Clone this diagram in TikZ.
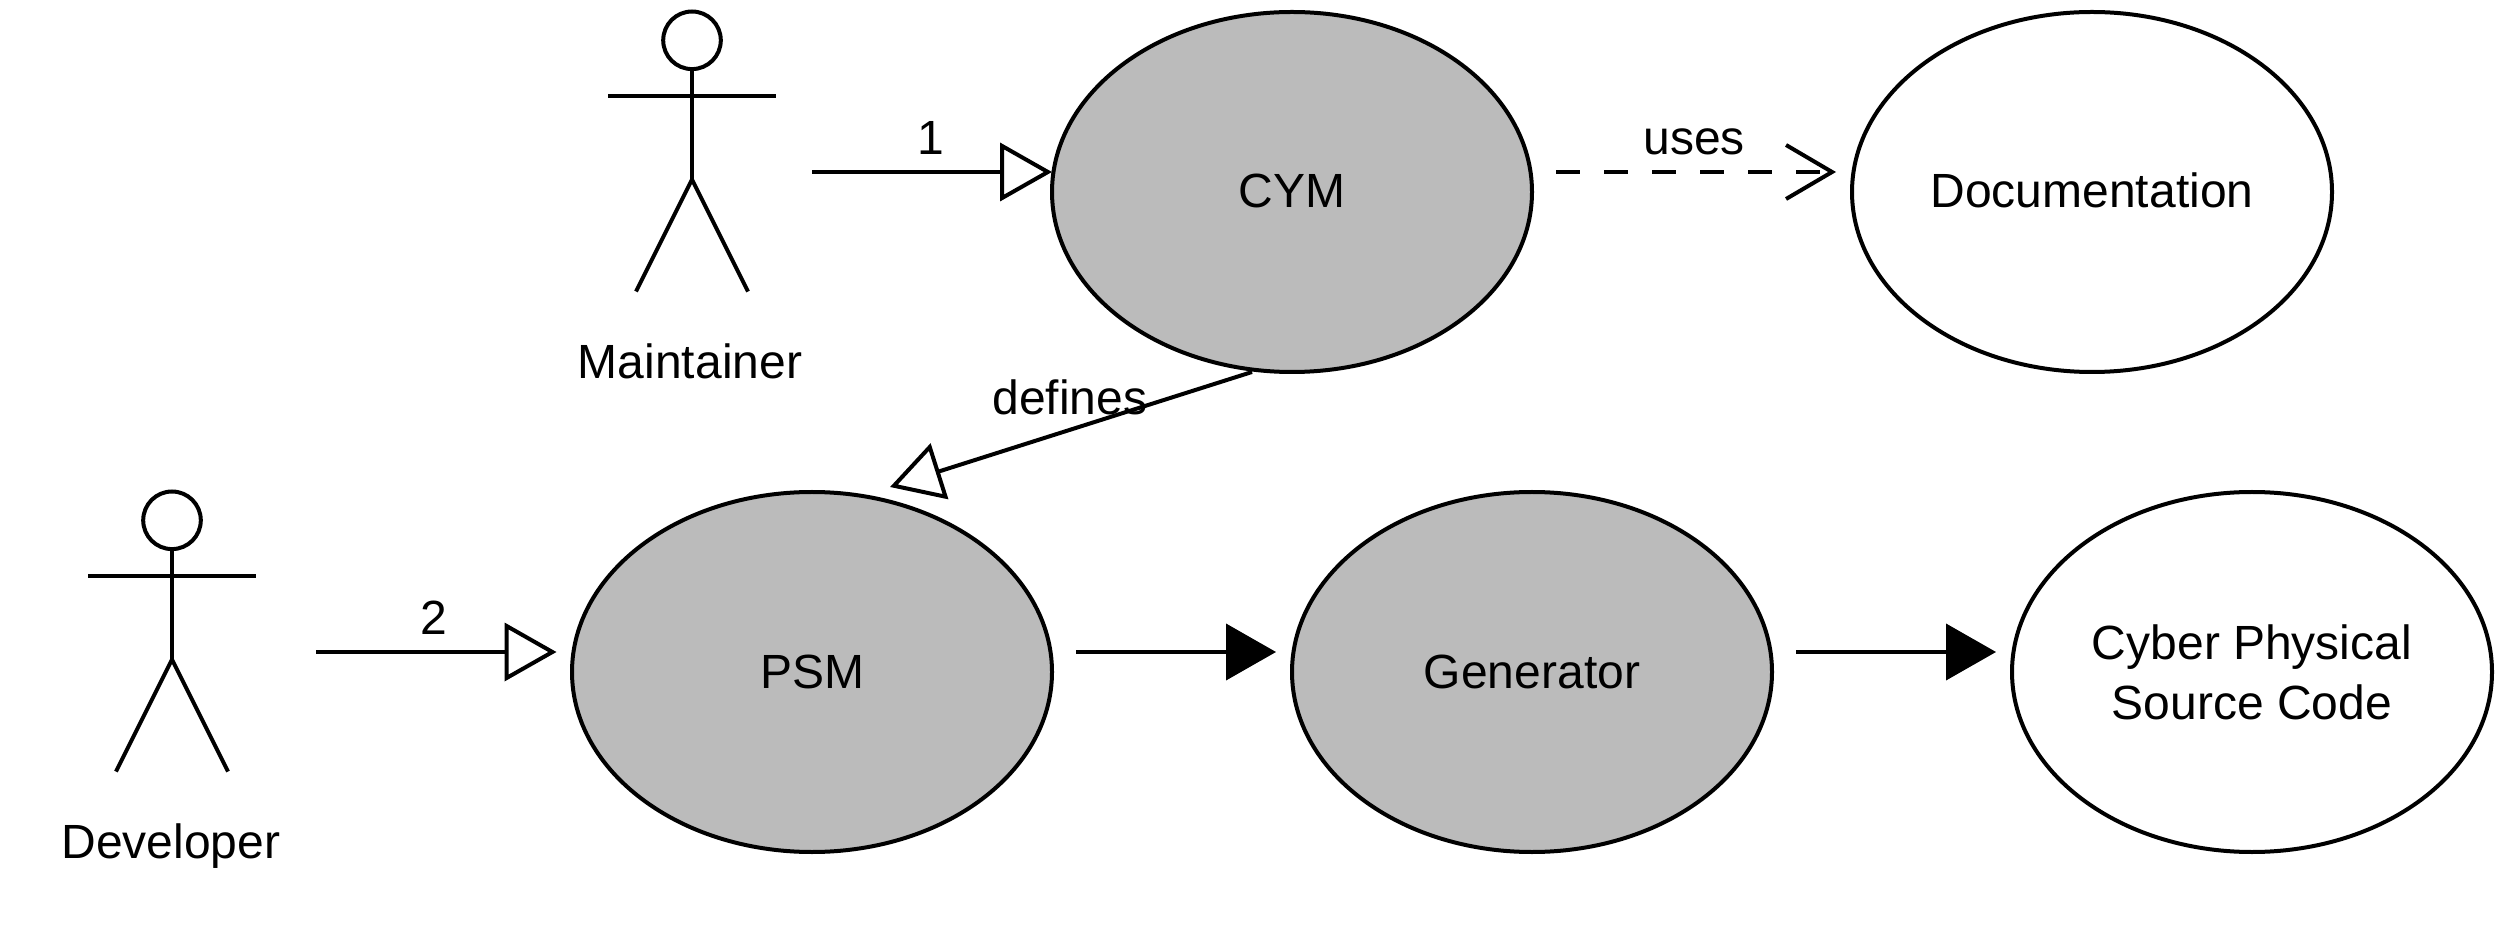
\documentclass[tikz,border=0pt]{standalone}
\usepackage{fontspec}
\setmainfont{Liberation Sans}
\usetikzlibrary{shapes.geometric,arrows.meta,calc}
\definecolor{ucgray}{HTML}{BBBBBB}
\tikzset{
  ln/.style={line width=2pt,black,line cap=butt,miter limit=10},
  usecase/.style={ellipse,draw=black,line width=2pt,minimum width=240pt,minimum height=180pt,inner sep=0pt,outer sep=0pt,font=\fontsize{24}{30}\selectfont,align=center},
  filleduc/.style={usecase,fill=ucgray},
  plainuc/.style={usecase,fill=white},
  lab/.style={inner sep=0pt,outer sep=0pt,font=\fontsize{24}{30}\selectfont,anchor=base},
  actorbox/.style={inner sep=0pt,outer sep=0pt,minimum width=84pt,minimum height=140.5pt,draw=none},
  hollow/.style={ln,-{Triangle[open,length=26pt,width=29pt,line width=2pt]}},
  solidtip/.style={ln,-{Triangle[length=25pt,width=28pt]}},
  dashline/.style={ln,dash pattern=on 12pt off 12pt,-{Straight Barb[length=23pt,width=27pt,line width=2pt]}},
  actor/.pic={
    \draw[ln] (0,28.8) circle[radius=14.4pt];
    \draw[ln] (0,57.6) -- (0,168);
    \draw[ln] (-84,84.6) -- (84,84.6);
    \draw[ln] (-56,280) -- (0,168) -- (56,280);
  }
}
\begin{document}
\begin{tikzpicture}[x=0.5pt,y=-0.5pt]
\useasboundingbox (0,0) rectangle (2500,940);
% use cases
\node[filleduc,text height=21pt,text depth=5pt] (cym) at (1292,192) {CYM};
\node[plainuc,text height=21pt,text depth=5pt] (doc) at (2092,192) {Documentation};
\node[filleduc,text height=21pt,text depth=5pt] (psm) at (812,672) {PSM};
\node[filleduc,text height=21pt,text depth=5pt] (gen) at (1532,672) {Generator};
\node[plainuc] (cps) at (2252,672) {Cyber Physical\\Source Code};
% actors
\node[actorbox] (maint) at (692,152) {};
\node[actorbox] (dev) at (172,632) {};
\path (692,11.5) pic {actor};
\path (172,491.5) pic {actor};
\node[lab] (maintlab) at (690,378.5) {Maintainer};
\node[lab] (devlab) at (171,858) {Developer};
% connectors
\draw[hollow] ([shift={(36,20)}]maint.east) -- ([shift={(0,-20)}]cym.west);
\node[lab] (l1) at (931,155) {1};
\draw[hollow] ([shift={(60,20)}]dev.east) -- ([shift={(-15.5,-20)}]psm.west);
\node[lab] (l2) at (434,634) {2};
\draw[dashline] ([shift={(24,-20)}]cym.east) -- ([shift={(-16,-20)}]doc.west);
\node[lab] (luses) at (1694,155) {uses};
\draw[solidtip] ([shift={(24,-20)}]psm.east) -- ([shift={(-16,-20)}]gen.west);
\draw[solidtip] ([shift={(24,-20)}]gen.east) -- ([shift={(-16,-20)}]cps.west);
\draw[hollow] ([shift={(-40,0)}]cym.south) -- ([shift={(78,-5)}]psm.north);
\node[lab] (ldef) at (1070,415) {defines};
\end{tikzpicture}
\end{document}
